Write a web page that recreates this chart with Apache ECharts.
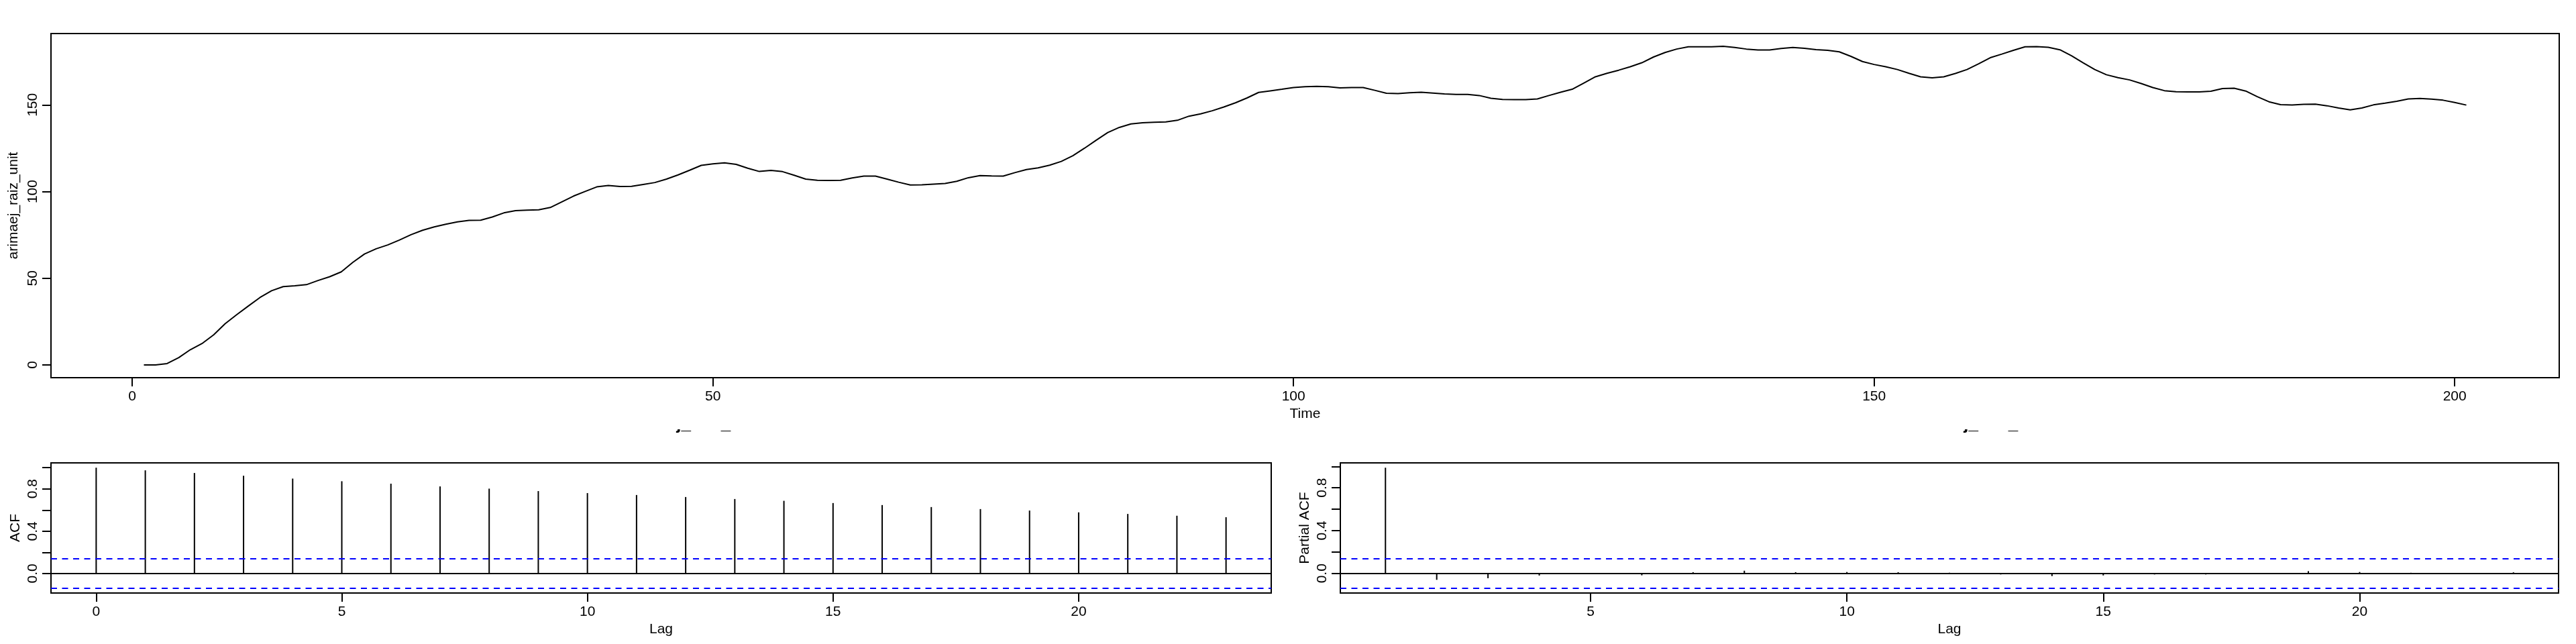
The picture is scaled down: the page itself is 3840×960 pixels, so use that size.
<!DOCTYPE html>
<html>
<head>
<meta charset="utf-8">
<script src="https://cdn.jsdelivr.net/npm/echarts@6/dist/echarts.min.js"></script>
<style>
html,body{margin:0;padding:0;background:#fff;}
#chart{width:3840px;height:960px;}
</style>
</head>
<body>
<div id="chart"></div>
<script>
// ---- data ----
const timeStart = 1;
const seriesValues = [
  0, 0, 0.8, 4.2, 8.8, 12.3, 17.3, 23.8, 29, 34,
  38.9, 42.8, 45.2, 45.7, 46.3, 48.7, 50.9, 53.7, 59.2, 64,
  67, 69.2, 72, 75.1, 77.7, 79.6, 81.2, 82.5, 83.4, 83.5,
  85.3, 87.7, 89, 89.3, 89.5, 90.8, 94.1, 97.4, 100.1, 102.7,
  103.5, 102.9, 103, 104.1, 105.2, 107.2, 109.6, 112.3, 115.1, 116,
  116.6, 115.7, 113.5, 111.6, 112.2, 111.5, 109.4, 107.2, 106.5, 106.4,
  106.5, 107.9, 108.9, 108.9, 107.2, 105.4, 103.8, 103.9, 104.3, 104.7,
  105.9, 108, 109.2, 109, 108.9, 110.9, 112.7, 113.7, 115.2, 117.4,
  120.7, 125, 129.6, 134, 137, 139, 139.7, 140, 140.2, 141.1,
  143.5, 144.8, 146.6, 148.8, 151.2, 154, 157.2, 158.1, 159, 160,
  160.5, 160.7, 160.5, 159.8, 160, 160, 158.4, 156.7, 156.5, 157,
  157.3, 156.8, 156.3, 156, 156, 155.4, 153.8, 153.1, 153, 153,
  153.4, 155.4, 157.3, 159, 162.6, 166.2, 168.2, 170, 172, 174.3,
  177.6, 180.2, 182.2, 183.5, 183.5, 183.5, 183.8, 183.1, 182.2, 181.7,
  181.7, 182.5, 183.1, 182.6, 181.9, 181.5, 180.6, 178, 175, 173.3,
  172, 170.4, 168.2, 166.2, 165.6, 166.2, 168.1, 170.4, 173.7, 177.2,
  179.3, 181.5, 183.5, 183.6, 183.2, 181.8, 178.3, 174.3, 170.4, 167.4,
  165.7, 164.4, 162.3, 160, 158.2, 157.6, 157.5, 157.5, 157.9, 159.4,
  159.6, 158, 154.7, 151.8, 150.1, 149.9, 150.3, 150.4, 149.5, 148.2,
  147.1, 148.2, 150, 151, 152.1, 153.4, 153.7, 153.3, 152.7, 151.4,
  149.9
];
const acfLags = [0,1,2,3,4,5,6,7,8,9,10,11,12,13,14,15,16,17,18,19,20,21,22,23];
const acfValues = [1.0, 0.975, 0.950, 0.924, 0.897, 0.872, 0.849, 0.823, 0.802, 0.779, 0.760, 0.742,
  0.723, 0.704, 0.687, 0.666, 0.647, 0.628, 0.609, 0.595, 0.578, 0.563, 0.546, 0.532];
const pacfLags = [1,2,3,4,5,6,7,8,9,10,11,12,13,14,15,16,17,18,19,20,21,22,23];
const pacfValues = [0.988, -0.06, -0.045, -0.02, -0.008, -0.018, 0.011, 0.025, 0.011, 0.013, 0.011, 0.006,
  -0.01, -0.025, -0.019, -0.01, -0.01, -0.008, 0.021, 0.013, 0.006, 0.003, 0.01];
const confBound = 0.1383;

const timeTicks = [0, 50, 100, 150, 200];
const valueTicks = [0, 50, 100, 150];
const acfLagTicks = [0, 5, 10, 15, 20];
const pacfLagTicks = [5, 10, 15, 20];
const corrTicks = [0, 0.2, 0.4, 0.6, 0.8, 1.0];
const corrLabels = [0, 0.4, 0.8];

const yName = 'arimaej_raiz_unit';
const xName = 'Time';
const lagName = 'Lag';
const acfName = 'ACF';
const pacfName = 'Partial ACF';
const acfTitle = 'Series arimaej_raiz_unit';

// ---- chart ----
const FONT = '"Liberation Sans", Arial, Helvetica, sans-serif';
const TITLE_FONT = 'bold 26px ' + FONT;
const chart = echarts.init(document.getElementById('chart'), null, {renderer: 'canvas'});

// distance between canvas "middle" baseline and alphabetic baseline for the title font
function middleToBaseline(font) {
  const c = document.createElement('canvas').getContext('2d');
  c.font = font;
  c.textBaseline = 'alphabetic';
  const a = c.measureText('H').actualBoundingBoxAscent;
  c.textBaseline = 'middle';
  const m = c.measureText('H').actualBoundingBoxAscent;
  const d = a - m;
  return (isFinite(d) && d > 0 && d < 20) ? d : 9;
}
const titleBaselineY = 639.5;
const titleY = titleBaselineY - middleToBaseline(TITLE_FONT);

function xAxis(gi, min, max, ticks, name) {
  return {
    type: 'value', gridIndex: gi, min: min, max: max, position: 'bottom',
    axisLine: {show: false, onZero: false},
    splitLine: {show: false},
    axisTick: {show: true, inside: false, length: 13, customValues: ticks, lineStyle: {color: '#000', width: 2}},
    axisLabel: {show: true, customValues: ticks, margin: 18, fontSize: 21, color: '#000', fontFamily: FONT},
    name: name, nameLocation: 'middle', nameGap: 44,
    nameTextStyle: {fontSize: 21, color: '#000', fontFamily: FONT}
  };
}
function yAxis(gi, min, max, ticks, labels, name, fmt) {
  return {
    type: 'value', gridIndex: gi, min: min, max: max, position: 'left',
    axisLine: {show: false, onZero: false},
    splitLine: {show: false},
    axisTick: {show: true, inside: false, length: 13, customValues: ticks, lineStyle: {color: '#000', width: 2}},
    axisLabel: {show: true, customValues: labels, rotate: 90, margin: 16, fontSize: 21, color: '#000', fontFamily: FONT,
      formatter: fmt},
    name: name, nameLocation: 'middle', nameGap: 42,
    nameTextStyle: {fontSize: 21, color: '#000', fontFamily: FONT}
  };
}

function stickRender(params, api) {
  const x = api.value(0), y = api.value(1);
  const p0 = api.coord([x, 0]);
  const p1 = api.coord([x, y]);
  return {type: 'line', shape: {x1: p0[0], y1: p0[1], x2: p1[0], y2: p1[1]},
    style: {stroke: '#000', lineWidth: 2}};
}

function refLines() {
  return {
    silent: true, symbol: 'none', animation: false,
    label: {show: false},
    data: [
      {yAxis: 0, lineStyle: {color: '#000', width: 2, type: 'solid'}},
      {yAxis: confBound, lineStyle: {color: '#0000FF', width: 2, type: [9, 7.5]}},
      {yAxis: -confBound, lineStyle: {color: '#0000FF', width: 2, type: [9, 7.5]}}
    ]
  };
}

const lineData = seriesValues.map((v, i) => [timeStart + i, v]);
const acfData = acfLags.map((l, i) => [l, acfValues[i]]);
const pacfData = pacfLags.map((l, i) => [l, pacfValues[i]]);

const fmt1 = v => Number(v).toFixed(1);
const fmt0 = v => String(v);

const gridStyle = {show: true, borderColor: '#000', borderWidth: 2, backgroundColor: 'transparent', containLabel: false};

function titleText(cx) {
  return {type: 'text', x: cx, y: titleY, z: 10, silent: true,
    style: {text: acfTitle, font: TITLE_FONT, fill: '#000', textAlign: 'center', textVerticalAlign: 'middle', align: 'center', verticalAlign: 'middle'}};
}

const option = {
  animation: false,
  backgroundColor: '#fff',
  grid: [
    Object.assign({left: 76, top: 50, width: 3739, height: 513}, gridStyle),
    Object.assign({left: 76, top: 690, width: 1819, height: 194}, gridStyle),
    Object.assign({left: 1998, top: 690, width: 1816, height: 194}, gridStyle)
  ],
  xAxis: [
    xAxis(0, -7, 209, timeTicks, xName),
    xAxis(1, -0.92, 23.92, acfLagTicks, lagName),
    xAxis(2, 0.12, 23.88, pacfLagTicks, lagName)
  ],
  yAxis: [
    yAxis(0, -7.35, 191.15, valueTicks, valueTicks, yName, fmt0),
    yAxis(1, -0.1843, 1.0455, corrTicks, corrLabels, acfName, fmt1),
    yAxis(2, -0.1834, 1.0331, corrTicks, corrLabels, pacfName, fmt1)
  ],
  series: [
    {type: 'line', xAxisIndex: 0, yAxisIndex: 0, data: lineData, showSymbol: false, symbol: 'none',
      lineStyle: {color: '#000', width: 2}, silent: true},
    {type: 'custom', xAxisIndex: 1, yAxisIndex: 1, data: acfData, renderItem: stickRender,
      encode: {x: 0, y: 1}, markLine: refLines(), silent: true},
    {type: 'custom', xAxisIndex: 2, yAxisIndex: 2, data: pacfData, renderItem: stickRender,
      encode: {x: 0, y: 1}, markLine: refLines(), silent: true}
  ],
  graphic: [
    titleText(988),
    titleText(2907),
    {type: 'rect', z: 20, silent: true, shape: {x: 800, y: 608, width: 380, height: 32}, style: {fill: '#fff'}},
    {type: 'rect', z: 20, silent: true, shape: {x: 2719, y: 608, width: 380, height: 32}, style: {fill: '#fff'}}
  ]
};
chart.setOption(option);
</script>
</body>
</html>
